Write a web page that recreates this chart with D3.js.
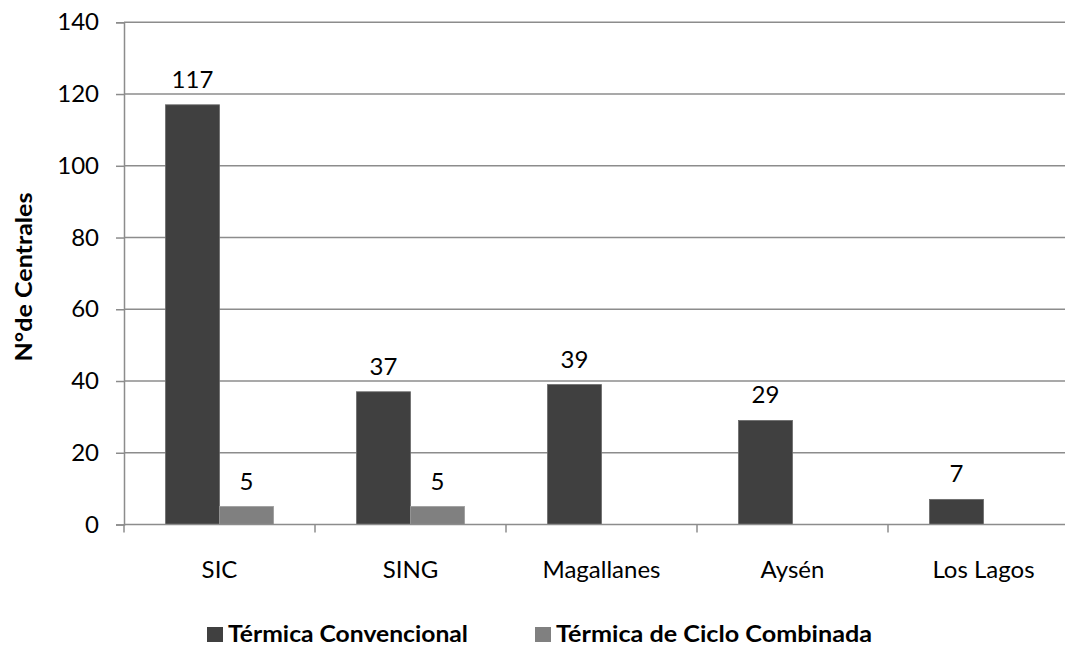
<!DOCTYPE html>
<html>
<head>
<meta charset="utf-8">
<script src="https://cdn.jsdelivr.net/npm/d3@7"></script>
<style>
  html, body { margin: 0; padding: 0; background: #fff; }
  svg { display: block; }
  text { font-family: Lato, "Open Sans", sans-serif; fill: #000; }
</style>
</head>
<body>
<svg id="chart" width="1065" height="646"></svg>
<script>
const categories = ["SIC", "SING", "Magallanes", "Aysén", "Los Lagos"];
const seriesNames = ["Térmica Convencional", "Térmica de Ciclo Combinada"];
const convencional = [117, 37, 39, 29, 7];
const cicloCombinado = [5, 5, null, null, null];
const yTicks = [0, 20, 40, 60, 80, 100, 120, 140];
const colors = ["#404040", "#808080"];

(function () {
const svg = d3.select("#chart");
const pLeft = 124, pRight = 1079, pTop = 22.3, pBottom = 524.5;
const fs = "24px";

const x = d3.scaleBand().domain(categories).range([pLeft, pRight]).paddingInner(0).paddingOuter(0);
const y = d3.scaleLinear().domain([0, 140]).range([pBottom, pTop]);

// gridlines
svg.append("g").selectAll("line").data(yTicks.filter(d => d > 0)).join("line")
  .attr("x1", pLeft).attr("x2", pRight)
  .attr("y1", d => y(d)).attr("y2", d => y(d))
  .attr("stroke", "#8c8c8c").attr("stroke-width", 1.5);

// y axis
const yAxis = svg.append("g").attr("transform", `translate(${pLeft},0)`)
  .call(d3.axisLeft(y).tickValues(yTicks).tickSize(8).tickPadding(17));
yAxis.select(".domain").attr("stroke", "#8c8c8c").attr("stroke-width", 1.5);
yAxis.selectAll(".tick line").attr("stroke", "#8c8c8c").attr("stroke-width", 1.5);
yAxis.selectAll(".tick text").style("font-size", fs).style("font-family", "Lato, 'Open Sans', sans-serif").attr("fill", "#000");

// bars
const seriesData = [convencional, cicloCombinado];
const barW = 54;
seriesData.forEach((vals, si) => {
  const g = svg.append("g");
  categories.forEach((c, i) => {
    const v = vals[i];
    if (v == null) return;
    const cx = x(c) + x.bandwidth() / 2;
    const bx = si === 0 ? cx - barW : cx;
    g.append("rect")
      .attr("x", bx).attr("width", barW)
      .attr("y", y(v)).attr("height", y(0) - y(v))
      .attr("fill", colors[si])
      .attr("stroke", si === 0 ? "#6a6a6a" : "#9a9a9a").attr("stroke-width", 0.8);
    g.append("text")
      .attr("x", bx + barW / 2).attr("y", y(v) - 17)
      .attr("text-anchor", "middle")
      .style("font-size", fs)
      .text(v);
  });
});

// x axis
const xAxisG = svg.append("g").attr("transform", `translate(0,${pBottom})`);
xAxisG.append("line").attr("x1", pLeft).attr("x2", pRight).attr("y1", 0).attr("y2", 0)
  .attr("stroke", "#8c8c8c").attr("stroke-width", 1.5);
xAxisG.selectAll("line.tk").data(categories).join("line").attr("class", "tk")
  .attr("x1", d => x(d)).attr("x2", d => x(d)).attr("y1", 0).attr("y2", 8)
  .attr("stroke", "#8c8c8c").attr("stroke-width", 1.5);
xAxisG.selectAll("text").data(categories).join("text")
  .attr("x", d => x(d) + x.bandwidth() / 2).attr("y", 53.5)
  .attr("text-anchor", "middle").style("font-size", fs)
  .text(d => d);

// y title
svg.append("text")
  .attr("transform", `translate(32,277) rotate(-90)`)
  .attr("text-anchor", "middle")
  .attr("textLength", 169).attr("lengthAdjust", "spacingAndGlyphs")
  .style("font-size", "22px").style("font-weight", "bold")
  .text("N°de Centrales");

// legend
const legendX = [207, 535];
const legendW = [240, 316];
seriesNames.forEach((n, i) => {
  svg.append("rect").attr("x", legendX[i]).attr("y", 627).attr("width", 16).attr("height", 15)
    .attr("fill", colors[i]);
  svg.append("text").attr("x", legendX[i] + 21).attr("y", 642)
    .attr("textLength", legendW[i]).attr("lengthAdjust", "spacingAndGlyphs")
    .style("font-size", "22px").style("font-weight", "bold")
    .text(n);
});
})();
</script>
</body>
</html>
